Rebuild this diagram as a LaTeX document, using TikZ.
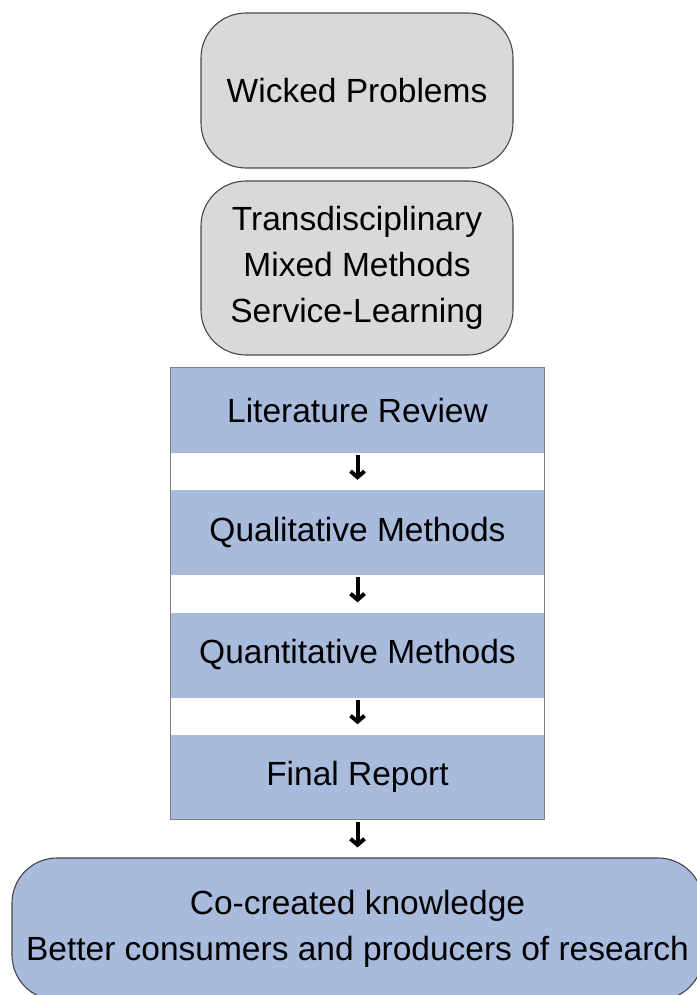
\documentclass[tikz,border=0pt]{standalone}
\usepackage{fontspec}
\setmainfont{Liberation Sans}
\usetikzlibrary{arrows.meta}

\definecolor{boxgray}{RGB}{217,217,217}
\definecolor{bandblue}{RGB}{169,187,221}
\definecolor{edgegray}{RGB}{70,70,70}

\tikzset{
  roundbox/.style={rectangle, rounded corners=45pt, draw=edgegray, line width=1.1pt,
    inner sep=0pt, align=center, font=\fontsize{33.5}{46}\selectfont},
  band/.style={rectangle, fill=bandblue, inner sep=0pt, minimum width=373pt,
    minimum height=85pt, font=\fontsize{33.5}{46}\selectfont},
  flowarrow/.style={line width=4pt, -{Straight Barb[length=6pt,width=14pt]},
    shorten <=2pt, shorten >=10pt}
}

\begin{document}
\begin{tikzpicture}[x=1pt, y=-1pt]
\useasboundingbox (0,0) rectangle (696,995);

\node[roundbox, fill=boxgray, minimum width=312pt, minimum height=155pt] (wicked) at (357,90.5) {Wicked Problems};

\node[roundbox, fill=boxgray, minimum width=312pt, minimum height=174pt] (approach) at (357,268) {Transdisciplinary\\Mixed Methods\\Service-Learning};

\node[band] (litreview) at (357.5,410.5) {Literature Review};
\node[band] (qualitative) at (357.5,532.5) {Qualitative Methods};
\node[band] (quantitative) at (357.5,655) {Quantitative Methods};
\node[band] (finalreport) at (357.5,777) {Final Report};

\draw[draw=gray, line width=0.8pt] (litreview.north west) rectangle (finalreport.south east);

\node[roundbox, fill=bandblue, minimum width=691pt, minimum height=142pt] (knowledge) at (357.5,929) {Co-created knowledge\\Better consumers and producers of research};

\draw[flowarrow] (litreview.south) -- (qualitative.north);
\draw[flowarrow] (qualitative.south) -- (quantitative.north);
\draw[flowarrow] (quantitative.south) -- (finalreport.north);
\draw[flowarrow] (finalreport.south) -- (knowledge.north);

\end{tikzpicture}
\end{document}
